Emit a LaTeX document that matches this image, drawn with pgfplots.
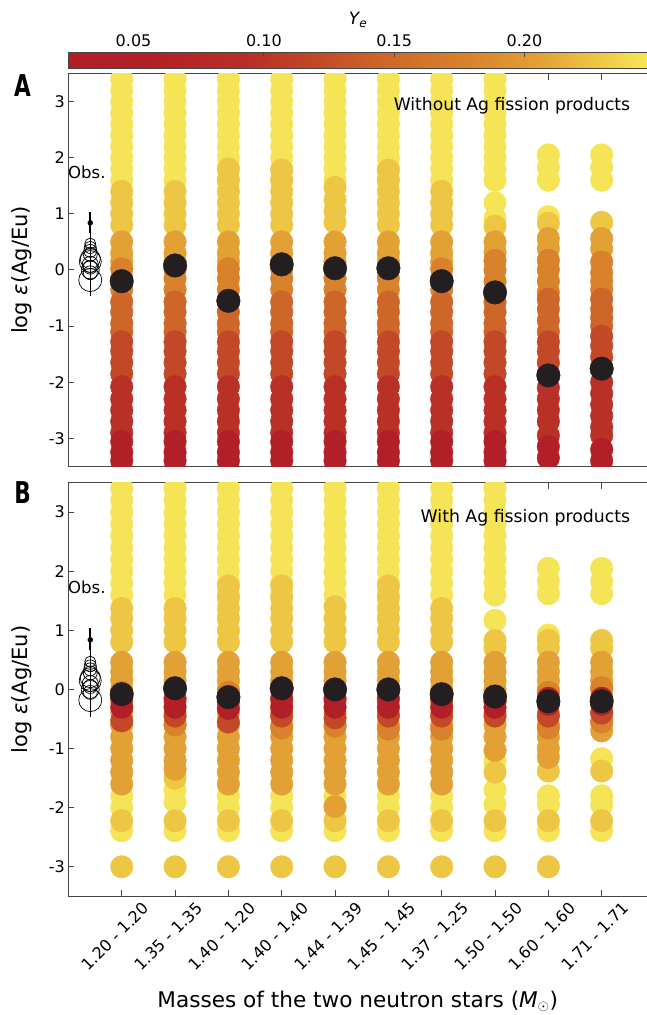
\documentclass[border=0pt]{standalone}
\usepackage{fontspec}
\setmainfont{DejaVu Sans}
\usepackage{pgfplots}
\usepackage{pgfplotstable}
\pgfplotsset{compat=1.18}
\definecolor{axgray}{RGB}{70,70,70}
\definecolor{medcol}{RGB}{35,31,32}
\pgfplotsset{
  colormap={agye}{rgb255(25pt)=(177,29,37) rgb255(55pt)=(178,32,38) rgb255(95pt)=(185,48,39) rgb255(120pt)=(194,72,40) rgb255(145pt)=(205,102,40) rgb255(178pt)=(216,130,44) rgb255(205pt)=(227,160,52) rgb255(228pt)=(237,199,68) rgb255(247pt)=(246,231,87)},
  tick label style={font=\fontsize{16}{18}\selectfont},
}
% colour bar samples (Ye along the bar)
\pgfplotstableread[row sep=\\]{
x y\\
0.025 0\\ 0.055 0\\ 0.095 0\\ 0.12 0\\ 0.145 0\\ 0.178 0\\ 0.205 0\\ 0.228 0\\ 0.247 0\\
0.025 1\\ 0.055 1\\ 0.095 1\\ 0.12 1\\ 0.145 1\\ 0.178 1\\ 0.205 1\\ 0.228 1\\ 0.247 1\\
}\cbar
% ---------------- Panel A points: x y Ye ----------------
\pgfplotstableread[row sep=\\]{
x y c\\
1 3.4 0.245\\ 1 3.2 0.245\\ 1 3.0 0.245\\ 1 2.8 0.245\\ 1 2.6 0.245\\ 1 2.4 0.245\\ 1 2.2 0.245\\ 1 2.0 0.245\\ 1 1.8 0.245\\ 1 1.6 0.245\\
2 3.4 0.245\\ 2 3.2 0.245\\ 2 3.0 0.245\\ 2 2.8 0.245\\ 2 2.6 0.245\\ 2 2.4 0.245\\ 2 2.2 0.245\\ 2 2.0 0.245\\ 2 1.8 0.245\\ 2 1.6 0.245\\
3 3.4 0.245\\ 3 3.2 0.245\\ 3 3.0 0.245\\ 3 2.8 0.245\\ 3 2.6 0.245\\ 3 2.4 0.245\\ 3 2.2 0.245\\ 3 2.0 0.245\\ 3 1.8 0.245\\ 3 1.6 0.245\\
4 3.4 0.245\\ 4 3.2 0.245\\ 4 3.0 0.245\\ 4 2.8 0.245\\ 4 2.6 0.245\\ 4 2.4 0.245\\ 4 2.2 0.245\\ 4 2.0 0.245\\ 4 1.8 0.245\\ 4 1.6 0.245\\
5 3.4 0.245\\ 5 3.2 0.245\\ 5 3.0 0.245\\ 5 2.8 0.245\\ 5 2.6 0.245\\ 5 2.4 0.245\\ 5 2.2 0.245\\ 5 2.0 0.245\\ 5 1.8 0.245\\ 5 1.6 0.245\\
6 3.4 0.245\\ 6 3.2 0.245\\ 6 3.0 0.245\\ 6 2.8 0.245\\ 6 2.6 0.245\\ 6 2.4 0.245\\ 6 2.2 0.245\\ 6 2.0 0.245\\ 6 1.8 0.245\\ 6 1.6 0.245\\
7 3.4 0.245\\ 7 3.2 0.245\\ 7 3.0 0.245\\ 7 2.8 0.245\\ 7 2.6 0.245\\ 7 2.4 0.245\\ 7 2.2 0.245\\ 7 2.0 0.245\\ 7 1.8 0.245\\ 7 1.6 0.245\\
8 3.4 0.245\\ 8 3.2 0.245\\ 8 3.0 0.245\\ 8 2.8 0.245\\ 8 2.6 0.245\\ 8 2.4 0.245\\ 8 2.2 0.245\\ 8 2.0 0.245\\ 8 1.8 0.245\\ 8 1.6 0.245\\
8 1.2 0.245\\ 8 0.92 0.245\\
9 2.05 0.245\\ 9 1.83 0.245\\ 9 1.6 0.245\\ 9 0.95 0.245\\
10 2.05 0.245\\ 10 1.83 0.245\\ 10 1.6 0.245\\
1 1.4 0.228\\ 1 1.2 0.228\\ 1 1.0 0.228\\ 1 0.8 0.228\\
2 1.4 0.228\\ 2 1.2 0.228\\ 2 1.0 0.228\\ 2 0.8 0.228\\
3 1.8 0.228\\ 3 1.6 0.228\\ 3 1.4 0.228\\ 3 1.2 0.228\\ 3 1.0 0.228\\ 3 0.8 0.228\\
4 1.78 0.228\\ 4 1.6 0.228\\ 4 1.4 0.228\\ 4 1.2 0.228\\ 4 1.0 0.228\\ 4 0.8 0.228\\
5 1.47 0.228\\ 5 1.25 0.228\\ 5 1.05 0.228\\ 5 0.85 0.228\\
6 1.78 0.228\\ 6 1.6 0.228\\ 6 1.4 0.228\\ 6 1.2 0.228\\ 6 1.0 0.228\\ 6 0.8 0.228\\
7 1.4 0.228\\ 7 1.2 0.228\\ 7 1.0 0.228\\ 7 0.8 0.228\\
8 0.78 0.228\\ 9 0.83 0.228\\ 10 0.85 0.228\\
1 0.5 0.205\\ 1 0.3 0.205\\ 1 0.15 0.205\\
2 0.5 0.205\\ 2 0.3 0.205\\ 2 0.15 0.205\\
3 0.5 0.205\\ 3 0.3 0.205\\ 3 0.15 0.205\\
4 0.5 0.205\\ 4 0.3 0.205\\ 4 0.15 0.205\\
5 0.5 0.205\\ 5 0.3 0.205\\ 5 0.15 0.205\\
6 0.5 0.205\\ 6 0.3 0.205\\ 6 0.15 0.205\\
7 0.5 0.205\\ 7 0.3 0.205\\ 7 0.15 0.205\\
8 0.5 0.205\\ 8 0.32 0.205\\
9 0.56 0.205\\ 9 0.38 0.205\\
10 0.56 0.205\\ 10 0.38 0.205\\
1 0.02 0.178\\ 1 -0.15 0.178\\ 1 -0.35 0.178\\
2 0.02 0.178\\ 2 -0.15 0.178\\ 2 -0.35 0.178\\
3 0.02 0.178\\ 3 -0.15 0.178\\ 3 -0.35 0.178\\
4 0.02 0.178\\ 4 -0.15 0.178\\ 4 -0.35 0.178\\
5 0.02 0.178\\ 5 -0.15 0.178\\ 5 -0.35 0.178\\
6 0.02 0.178\\ 6 -0.15 0.178\\ 6 -0.35 0.178\\
7 0.02 0.178\\ 7 -0.15 0.178\\ 7 -0.35 0.178\\
8 0.17 0.178\\ 8 0.0 0.178\\ 8 -0.2 0.178\\ 8 -0.4 0.178\\
9 0.17 0.178\\ 9 0.0 0.178\\ 9 -0.2 0.178\\ 9 -0.4 0.178\\
10 0.14 0.178\\ 10 -0.05 0.178\\ 10 -0.2 0.178\\ 10 -0.35 0.178\\
1 -0.57 0.145\\ 1 -0.75 0.145\\ 1 -0.95 0.145\\ 1 -1.1 0.145\\
2 -0.57 0.145\\ 2 -0.75 0.145\\ 2 -0.95 0.145\\ 2 -1.1 0.145\\
3 -0.57 0.145\\ 3 -0.75 0.145\\ 3 -0.95 0.145\\ 3 -1.1 0.145\\
4 -0.57 0.145\\ 4 -0.75 0.145\\ 4 -0.95 0.145\\ 4 -1.1 0.145\\
5 -0.57 0.145\\ 5 -0.75 0.145\\ 5 -0.95 0.145\\ 5 -1.1 0.145\\
6 -0.57 0.145\\ 6 -0.75 0.145\\ 6 -0.95 0.145\\ 6 -1.1 0.145\\
7 -0.57 0.145\\ 7 -0.75 0.145\\ 7 -0.95 0.145\\ 7 -1.1 0.145\\
8 -0.57 0.145\\ 8 -0.75 0.145\\ 8 -0.95 0.145\\ 8 -1.1 0.145\\
9 -0.52 0.145\\ 9 -0.7 0.145\\ 9 -0.9 0.145\\ 9 -1.1 0.145\\
10 -0.52 0.145\\ 10 -0.7 0.145\\ 10 -0.85 0.145\\ 10 -1.0 0.145\\
1 -1.28 0.12\\ 1 -1.45 0.12\\ 1 -1.65 0.12\\ 1 -1.85 0.12\\
2 -1.28 0.12\\ 2 -1.45 0.12\\ 2 -1.65 0.12\\ 2 -1.85 0.12\\
3 -1.28 0.12\\ 3 -1.45 0.12\\ 3 -1.65 0.12\\ 3 -1.85 0.12\\
4 -1.28 0.12\\ 4 -1.45 0.12\\ 4 -1.65 0.12\\ 4 -1.85 0.12\\
5 -1.28 0.12\\ 5 -1.45 0.12\\ 5 -1.65 0.12\\ 5 -1.85 0.12\\
6 -1.28 0.12\\ 6 -1.45 0.12\\ 6 -1.65 0.12\\ 6 -1.85 0.12\\
7 -1.28 0.12\\ 7 -1.45 0.12\\ 7 -1.65 0.12\\ 7 -1.85 0.12\\
8 -1.28 0.12\\ 8 -1.45 0.12\\ 8 -1.65 0.12\\ 8 -1.85 0.12\\
9 -1.28 0.12\\ 9 -1.45 0.12\\ 9 -1.65 0.12\\ 9 -1.85 0.12\\
10 -1.18 0.12\\ 10 -1.35 0.12\\ 10 -1.55 0.12\\ 10 -1.75 0.12\\
1 -2.08 0.095\\ 1 -2.3 0.095\\ 1 -2.5 0.095\\ 1 -2.7 0.095\\ 1 -2.9 0.095\\
2 -2.08 0.095\\ 2 -2.3 0.095\\ 2 -2.5 0.095\\ 2 -2.7 0.095\\ 2 -2.9 0.095\\
3 -2.08 0.095\\ 3 -2.3 0.095\\ 3 -2.5 0.095\\ 3 -2.7 0.095\\ 3 -2.9 0.095\\
4 -2.08 0.095\\ 4 -2.3 0.095\\ 4 -2.5 0.095\\ 4 -2.7 0.095\\ 4 -2.9 0.095\\
5 -2.08 0.095\\ 5 -2.3 0.095\\ 5 -2.5 0.095\\ 5 -2.7 0.095\\ 5 -2.9 0.095\\
6 -2.08 0.095\\ 6 -2.3 0.095\\ 6 -2.5 0.095\\ 6 -2.7 0.095\\ 6 -2.9 0.095\\
7 -2.08 0.095\\ 7 -2.3 0.095\\ 7 -2.5 0.095\\ 7 -2.7 0.095\\ 7 -2.9 0.095\\
8 -2.08 0.095\\ 8 -2.3 0.095\\ 8 -2.5 0.095\\ 8 -2.7 0.095\\ 8 -2.9 0.095\\
9 -2.1 0.095\\ 9 -2.3 0.095\\ 9 -2.5 0.095\\ 9 -2.7 0.095\\ 9 -2.95 0.095\\
10 -2.0 0.095\\ 10 -2.2 0.095\\ 10 -2.4 0.095\\ 10 -2.6 0.095\\ 10 -2.8 0.095\\ 10 -2.95 0.095\\
1 -3.06 0.05\\ 1 -3.25 0.05\\ 1 -3.4 0.05\\
2 -3.06 0.05\\ 2 -3.25 0.05\\ 2 -3.4 0.05\\
3 -3.06 0.05\\ 3 -3.25 0.05\\ 3 -3.4 0.05\\
4 -3.06 0.05\\ 4 -3.25 0.05\\ 4 -3.4 0.05\\
5 -3.06 0.05\\ 5 -3.25 0.05\\ 5 -3.4 0.05\\
6 -3.06 0.05\\ 6 -3.25 0.05\\ 6 -3.4 0.05\\
7 -3.06 0.05\\ 7 -3.25 0.05\\ 7 -3.4 0.05\\
8 -3.06 0.05\\ 8 -3.25 0.05\\ 8 -3.4 0.05\\
9 -3.15 0.05\\ 9 -3.35 0.05\\
10 -3.2 0.05\\ 10 -3.4 0.05\\
}\ptsA
% ---------------- Panel B points: x y Ye ----------------
\pgfplotstableread[row sep=\\]{
x y c\\
1 3.4 0.245\\ 1 3.2 0.245\\ 1 3.0 0.245\\ 1 2.8 0.245\\ 1 2.6 0.245\\ 1 2.4 0.245\\ 1 2.2 0.245\\ 1 2.0 0.245\\ 1 1.8 0.245\\ 1 1.6 0.245\\
2 3.4 0.245\\ 2 3.2 0.245\\ 2 3.0 0.245\\ 2 2.8 0.245\\ 2 2.6 0.245\\ 2 2.4 0.245\\ 2 2.2 0.245\\ 2 2.0 0.245\\ 2 1.8 0.245\\ 2 1.6 0.245\\
3 3.4 0.245\\ 3 3.2 0.245\\ 3 3.0 0.245\\ 3 2.8 0.245\\ 3 2.6 0.245\\ 3 2.4 0.245\\ 3 2.2 0.245\\ 3 2.0 0.245\\ 3 1.8 0.245\\ 3 1.6 0.245\\
4 3.4 0.245\\ 4 3.2 0.245\\ 4 3.0 0.245\\ 4 2.8 0.245\\ 4 2.6 0.245\\ 4 2.4 0.245\\ 4 2.2 0.245\\ 4 2.0 0.245\\ 4 1.8 0.245\\ 4 1.6 0.245\\
5 3.4 0.245\\ 5 3.2 0.245\\ 5 3.0 0.245\\ 5 2.8 0.245\\ 5 2.6 0.245\\ 5 2.4 0.245\\ 5 2.2 0.245\\ 5 2.0 0.245\\ 5 1.8 0.245\\ 5 1.6 0.245\\
6 3.4 0.245\\ 6 3.2 0.245\\ 6 3.0 0.245\\ 6 2.8 0.245\\ 6 2.6 0.245\\ 6 2.4 0.245\\ 6 2.2 0.245\\ 6 2.0 0.245\\ 6 1.8 0.245\\ 6 1.6 0.245\\
7 3.4 0.245\\ 7 3.2 0.245\\ 7 3.0 0.245\\ 7 2.8 0.245\\ 7 2.6 0.245\\ 7 2.4 0.245\\ 7 2.2 0.245\\ 7 2.0 0.245\\ 7 1.8 0.245\\ 7 1.6 0.245\\
8 3.4 0.245\\ 8 3.2 0.245\\ 8 3.0 0.245\\ 8 2.8 0.245\\ 8 2.6 0.245\\ 8 2.4 0.245\\ 8 2.2 0.245\\ 8 2.0 0.245\\ 8 1.8 0.245\\ 8 1.6 0.245\\
8 1.17 0.245\\
9 2.05 0.245\\ 9 1.83 0.245\\ 9 1.62 0.245\\ 9 0.92 0.245\\
10 2.05 0.245\\ 10 1.83 0.245\\ 10 1.62 0.245\\
1 -1.8 0.245\\ 1 -2.0 0.245\\ 1 -2.39 0.245\\
2 -1.7 0.245\\ 2 -1.9 0.245\\ 2 -2.39 0.245\\
3 -1.8 0.245\\ 3 -2.0 0.245\\ 3 -2.39 0.245\\
4 -1.8 0.245\\ 4 -2.0 0.245\\ 4 -2.39 0.245\\
5 -1.8 0.245\\ 5 -2.0 0.245\\ 5 -2.39 0.245\\
6 -1.8 0.245\\ 6 -2.0 0.245\\ 6 -2.39 0.245\\
7 -1.8 0.245\\ 7 -2.0 0.245\\ 7 -2.39 0.245\\
8 -1.22 0.245\\ 8 -1.7 0.245\\ 8 -1.95 0.245\\ 8 -2.39 0.245\\
9 -1.8 0.245\\ 9 -1.95 0.245\\ 9 -2.39 0.245\\
10 -1.17 0.245\\ 10 -1.8 0.245\\ 10 -1.95 0.245\\ 10 -2.39 0.245\\
1 1.37 0.228\\ 1 1.2 0.228\\ 1 1.0 0.228\\ 1 0.8 0.228\\ 1 -2.22 0.228\\ 1 -3.0 0.228\\
2 1.37 0.228\\ 2 1.2 0.228\\ 2 1.0 0.228\\ 2 0.8 0.228\\ 2 -1.5 0.228\\ 2 -2.22 0.228\\ 2 -3.0 0.228\\
3 1.75 0.228\\ 3 1.55 0.228\\ 3 1.37 0.228\\ 3 1.2 0.228\\ 3 1.0 0.228\\ 3 0.8 0.228\\ 3 -2.22 0.228\\ 3 -3.0 0.228\\
4 1.75 0.228\\ 4 1.55 0.228\\ 4 1.37 0.228\\ 4 1.2 0.228\\ 4 1.0 0.228\\ 4 0.8 0.228\\ 4 -2.22 0.228\\ 4 -3.0 0.228\\
5 1.4 0.228\\ 5 1.2 0.228\\ 5 1.0 0.228\\ 5 0.8 0.228\\ 5 -2.22 0.228\\ 5 -3.0 0.228\\
6 1.75 0.228\\ 6 1.55 0.228\\ 6 1.37 0.228\\ 6 1.2 0.228\\ 6 1.0 0.228\\ 6 0.8 0.228\\ 6 -2.22 0.228\\ 6 -3.0 0.228\\
7 1.37 0.228\\ 7 1.2 0.228\\ 7 1.0 0.228\\ 7 0.8 0.228\\ 7 -2.22 0.228\\ 7 -3.0 0.228\\
8 0.83 0.228\\ 8 0.7 0.228\\ 8 -1.4 0.228\\ 8 -2.22 0.228\\ 8 -3.0 0.228\\
9 0.83 0.228\\ 9 0.7 0.228\\ 9 -1.38 0.228\\ 9 -2.22 0.228\\ 9 -3.0 0.228\\
10 0.83 0.228\\ 10 0.7 0.228\\ 10 -1.38 0.228\\ 10 -2.22 0.228\\
1 0.46 0.205\\ 1 0.3 0.205\\ 1 0.15 0.205\\ 1 0.0 0.205\\ 1 -0.2 0.205\\ 1 -0.4 0.205\\ 1 -0.6 0.205\\ 1 -0.8 0.205\\ 1 -1.0 0.205\\ 1 -1.2 0.205\\ 1 -1.4 0.205\\ 1 -1.6 0.205\\
2 0.46 0.205\\ 2 0.3 0.205\\ 2 0.15 0.205\\ 2 0.0 0.205\\ 2 -0.2 0.205\\ 2 -0.4 0.205\\ 2 -0.6 0.205\\ 2 -0.8 0.205\\ 2 -1.0 0.205\\ 2 -1.2 0.205\\ 2 -1.35 0.205\\
3 0.46 0.205\\ 3 0.3 0.205\\ 3 0.15 0.205\\ 3 0.0 0.205\\ 3 -0.2 0.205\\ 3 -0.4 0.205\\ 3 -0.6 0.205\\ 3 -0.8 0.205\\ 3 -1.0 0.205\\ 3 -1.2 0.205\\ 3 -1.4 0.205\\ 3 -1.6 0.205\\
4 0.46 0.205\\ 4 0.3 0.205\\ 4 0.15 0.205\\ 4 0.0 0.205\\ 4 -0.2 0.205\\ 4 -0.4 0.205\\ 4 -0.6 0.205\\ 4 -0.8 0.205\\ 4 -1.0 0.205\\ 4 -1.2 0.205\\ 4 -1.4 0.205\\ 4 -1.6 0.205\\
5 0.46 0.205\\ 5 0.3 0.205\\ 5 0.15 0.205\\ 5 0.0 0.205\\ 5 -0.2 0.205\\ 5 -0.4 0.205\\ 5 -0.6 0.205\\ 5 -0.8 0.205\\ 5 -1.0 0.205\\ 5 -1.2 0.205\\ 5 -1.4 0.205\\ 5 -1.6 0.205\\ 5 -1.98 0.205\\
6 0.46 0.205\\ 6 0.3 0.205\\ 6 0.15 0.205\\ 6 0.0 0.205\\ 6 -0.2 0.205\\ 6 -0.4 0.205\\ 6 -0.6 0.205\\ 6 -0.8 0.205\\ 6 -1.0 0.205\\ 6 -1.2 0.205\\ 6 -1.4 0.205\\ 6 -1.6 0.205\\
7 0.46 0.205\\ 7 0.3 0.205\\ 7 0.15 0.205\\ 7 0.0 0.205\\ 7 -0.2 0.205\\ 7 -0.4 0.205\\ 7 -0.6 0.205\\ 7 -0.8 0.205\\ 7 -1.0 0.205\\ 7 -1.2 0.205\\ 7 -1.4 0.205\\ 7 -1.6 0.205\\
8 0.46 0.205\\ 8 0.3 0.205\\ 8 0.15 0.205\\ 8 0.0 0.205\\ 8 -0.2 0.205\\ 8 -0.4 0.205\\ 8 -0.6 0.205\\ 8 -0.8 0.205\\ 8 -1.03 0.205\\
9 0.46 0.205\\ 9 0.3 0.205\\ 9 0.15 0.205\\ 9 0.0 0.205\\ 9 -0.2 0.205\\ 9 -0.4 0.205\\ 9 -0.6 0.205\\ 9 -0.8 0.205\\ 9 -1.0 0.205\\ 9 -1.15 0.205\\
10 0.46 0.205\\ 10 0.3 0.205\\ 10 0.15 0.205\\ 10 0.0 0.205\\ 10 -0.2 0.205\\ 10 -0.4 0.205\\ 10 -0.55 0.205\\ 10 -0.7 0.205\\
1 -0.05 0.178\\ 2 -0.6 0.178\\ 3 -0.05 0.178\\ 4 -0.65 0.178\\ 5 -0.62 0.178\\
6 -0.67 0.178\\ 7 -0.67 0.178\\ 9 -0.05 0.178\\ 9 -0.65 0.178\\ 10 0.03 0.178\\ 10 -0.55 0.178\\
1 -0.53 0.12\\ 2 -0.45 0.12\\ 3 -0.55 0.12\\ 4 -0.45 0.12\\ 5 -0.48 0.12\\
6 -0.45 0.12\\ 7 -0.45 0.12\\ 8 -0.45 0.12\\ 9 -0.45 0.12\\ 10 -0.4 0.12\\
1 -0.15 0.05\\ 1 -0.3 0.05\\ 2 -0.15 0.05\\ 2 -0.3 0.05\\ 3 -0.2 0.05\\ 3 -0.32 0.05\\
4 -0.15 0.05\\ 4 -0.3 0.05\\ 5 -0.15 0.05\\ 5 -0.3 0.05\\ 6 -0.15 0.05\\ 6 -0.3 0.05\\
7 -0.15 0.05\\ 7 -0.3 0.05\\ 8 -0.2 0.05\\ 8 -0.3 0.05\\ 9 -0.15 0.05\\ 9 -0.25 0.05\\
10 -0.15 0.05\\ 10 -0.25 0.05\\
}\ptsB
% medians
\pgfplotstableread[row sep=\\]{
x y\\ 1 -0.2\\ 2 0.08\\ 3 -0.55\\ 4 0.1\\ 5 0.03\\ 6 0.03\\ 7 -0.2\\ 8 -0.4\\ 9 -1.88\\ 10 -1.76\\
}\medA
\pgfplotstableread[row sep=\\]{
x y\\ 1 -0.08\\ 2 0.02\\ 3 -0.13\\ 4 0.02\\ 5 0.0\\ 6 0.0\\ 7 -0.08\\ 8 -0.12\\ 9 -0.2\\ 10 -0.2\\
}\medB
% observations: x y radius(pt)
\pgfplotstableread[row sep=\\]{
x y r\\
0.41 0.47 5.5\\ 0.41 0.40 6\\ 0.41 0.34 6.5\\ 0.41 0.28 7\\ 0.41 0.20 10\\ 0.41 0.15 11\\
0.41 0.10 8\\ 0.41 0.05 7\\ 0.41 0.00 9\\ 0.41 -0.05 7\\ 0.41 -0.18 11.5\\
}\obs

\pgfplotsset{
  panel/.style={
    scale only axis, width=578.6pt,
    xmin=0, xmax=10.85, ymin=-3.5, ymax=3.5,
    axis x line=box, axis y line=left,
    axis line style={-, draw=axgray, line width=1pt},
    y axis line style={-},
    tick style={draw=axgray, line width=1pt},
    tick align=inside, major tick length=6pt,
    xtick={1,2,3,4,5,6,7,8,9,10},
    ytick={-3,-2,-1,0,1,2,3}, yticklabels={-3,-2,-1,0,1,2,3},
    clip marker paths=true,
    colormap name=agye,
    point meta min=0.025, point meta max=0.247,
    ylabel={log {\itshape ε}(Ag/Eu)},
    ylabel style={at={(axis description cs:-0.0802,0.5)}, anchor=center, font=\fontsize{21}{24}\selectfont},
  },
  pts/.style={scatter, only marks, mark=*, mark size=11.3pt, point meta=explicit,
    scatter/use mapped color={draw=mapped color, fill=mapped color}},
  obsline/.style={black},
}

\begin{document}
\begin{tikzpicture}
% ---------------- colour bar ----------------
\begin{axis}[
  at={(68.4pt,-68.3pt)}, anchor=south west,
  scale only axis, width=578.6pt, height=16pt,
  xmin=0.025, xmax=0.247, ymin=0, ymax=1,
  axis on top,
  axis line style={draw=axgray, line width=1pt},
  ytick=\empty,
  xtick={0.05,0.10,0.15,0.20}, xticklabels={0.05,0.10,0.15,0.20},
  xtick pos=right, xticklabel pos=upper,
  tick align=inside, major tick length=5pt,
  tick style={draw=axgray, line width=1pt},
  xticklabel style={yshift=2pt},
  colormap name=agye, point meta min=0.025, point meta max=0.247,
]
\addplot[surf, shader=interp, point meta=x, mesh/rows=2, mesh/cols=9] table[x=x, y=y] {\cbar};
\end{axis}
% ---------------- Panel A ----------------
\begin{axis}[panel,
  at={(68.4pt,-466.3pt)}, anchor=south west, height=392.7pt,
  xticklabels={},
]
\addplot[pts] table[x=x, y=y, meta=c] {\ptsA};
\addplot[only marks, mark=*, mark size=11.8pt, color=medcol] table[x=x, y=y] {\medA};
\addplot[black, line width=2pt] coordinates {(0.41,0.66) (0.41,1.04)};
\addplot[black, line width=1pt] coordinates {(0.41,-0.47) (0.41,0.66)};
\addplot[only marks, mark=*, mark size=2.5pt, black] coordinates {(0.41,0.84)};
\addplot[scatter, only marks, mark=o, line width=0.7pt, scatter/use mapped color={draw=black},
  visualization depends on={\thisrow{r}\as\rr},
  scatter/@pre marker code/.append style={/tikz/mark size=\rr}] table[x=x, y=y] {\obs};
\node[anchor=east, font=\fontsize{17.2}{19}\selectfont] at (axis cs:10.6,2.93) {Without Ag fission products};
\node[anchor=west, font=\fontsize{16.5}{18}\selectfont] at (axis cs:-0.07,1.74) {Obs.};
\end{axis}
% ---------------- Panel B ----------------
\begin{axis}[panel,
  at={(68.4pt,-896.3pt)}, anchor=south west, height=413.7pt,
  xticklabels={},
  extra x ticks={1.375,2.375,3.375,4.375,5.375,6.375,7.375,8.375,9.375,10.375},
  extra x tick labels={1.20 - 1.20, 1.35 - 1.35, 1.40 - 1.20, 1.40 - 1.40, 1.44 - 1.39, 1.45 - 1.45, 1.37 - 1.25, 1.50 - 1.50, 1.60 - 1.60, 1.71 - 1.71},
  extra x tick style={major tick length=0pt, tick style={draw=none}, xticklabel style={rotate=45, anchor=north east}},
  xlabel={Masses of the two neutron stars ({\itshape M}$_\odot$)},
  xlabel style={at={(axis description cs:0.5,0)}, anchor=center, yshift=-104.7pt, font=\fontsize{21.6}{24}\selectfont},
]
\addplot[pts] table[x=x, y=y, meta=c] {\ptsB};
\addplot[only marks, mark=*, mark size=11.8pt, color=medcol] table[x=x, y=y] {\medB};
\addplot[black, line width=2pt] coordinates {(0.41,0.66) (0.41,1.04)};
\addplot[black, line width=1pt] coordinates {(0.41,-0.47) (0.41,0.66)};
\addplot[only marks, mark=*, mark size=2.5pt, black] coordinates {(0.41,0.84)};
\addplot[scatter, only marks, mark=o, line width=0.7pt, scatter/use mapped color={draw=black},
  visualization depends on={\thisrow{r}\as\rr},
  scatter/@pre marker code/.append style={/tikz/mark size=\rr}] table[x=x, y=y] {\obs};
\node[anchor=east, font=\fontsize{17.3}{19}\selectfont] at (axis cs:10.6,2.91) {With Ag fission products};
\node[anchor=west, font=\fontsize{16.5}{18}\selectfont] at (axis cs:-0.07,1.72) {Obs.};
\end{axis}
% panel letters and colour bar title
\node[font=\fontsize{30}{32}\selectfont\bfseries] at (22.5pt,-86pt) {\scalebox{0.72}[1]{A}};
\node[font=\fontsize{30}{32}\selectfont\bfseries] at (22.5pt,-493pt) {\scalebox{0.72}[1]{B}};
\node[font=\fontsize{17}{19}\selectfont] at (358pt,-20pt) {{\itshape Y}\textsubscript{\itshape e}};
\pgfresetboundingbox
\path[use as bounding box] (0pt,0pt) rectangle (647pt,-1015pt);
\end{tikzpicture}
\end{document}
